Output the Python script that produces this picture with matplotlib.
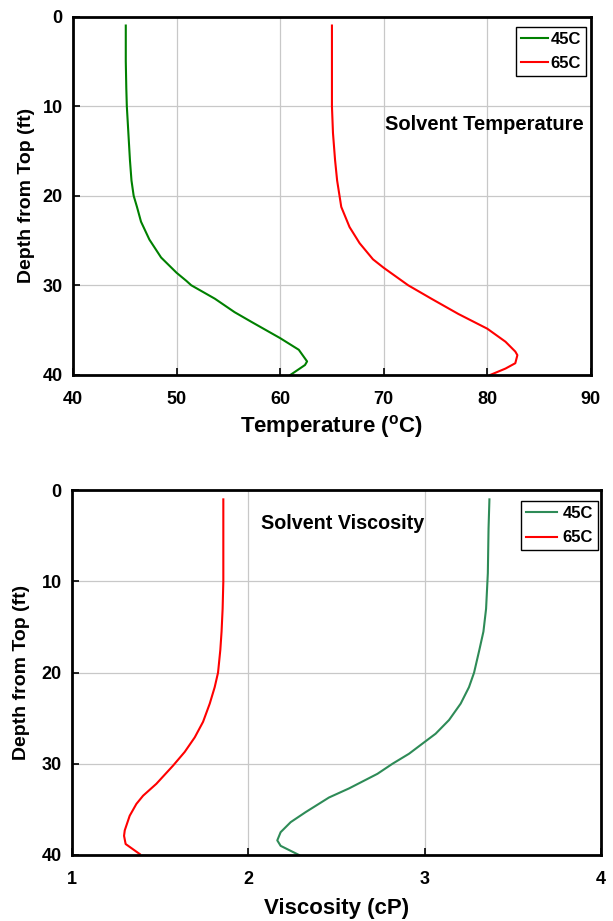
import matplotlib
matplotlib.use("Agg")
import matplotlib.pyplot as plt

plt.rcParams['font.family'] = ['Liberation Sans', 'DejaVu Sans']
plt.rcParams['font.weight'] = 'bold'

# top chart: temperature vs depth
t45_depth = [1, 5, 8, 10, 13, 16, 18.3, 20, 21.25, 22.9, 24.9, 26.9, 28.6, 29.5, 30, 31.5, 33.0, 34.1, 35.9, 37.2, 38.5, 38.9, 40]
t45_temp = [45.1, 45.1, 45.15, 45.2, 45.35, 45.5, 45.65, 45.86, 46.18, 46.57, 47.38, 48.51, 50.0, 50.94, 51.42, 53.7, 55.6, 57.25, 60.0, 61.8, 62.6, 62.4, 61.0]
t65_depth = [1, 5, 10, 13, 16, 18.3, 21.25, 23.5, 25.3, 27.1, 28.05, 30, 31.5, 33.2, 34.85, 36.3, 37.4, 37.8, 38.7, 39.3, 40]
t65_temp = [65.0, 65.0, 65.0, 65.1, 65.3, 65.5, 65.9, 66.7, 67.67, 68.96, 70.0, 72.36, 74.6, 77.2, 80.0, 81.75, 82.7, 82.9, 82.7, 81.75, 80.3]

# bottom chart: viscosity vs depth
v45_depth = [1, 4.2, 9.1, 13, 15.5, 17.5, 20, 21.6, 23.4, 25.2, 26.7, 27.6, 28.9, 30, 31.1, 32.7, 33.7, 35.3, 36.4, 37.5, 38.4, 39.0, 40]
v45_visc = [3.367, 3.362, 3.358, 3.348, 3.333, 3.31, 3.28, 3.251, 3.204, 3.138, 3.062, 3.0, 2.911, 2.817, 2.732, 2.571, 2.457, 2.325, 2.24, 2.183, 2.164, 2.183, 2.287]
v65_depth = [1, 5, 10, 13, 15.5, 17.5, 20, 21.6, 23.4, 25.4, 27.1, 28.7, 30.2, 32.2, 33.5, 34.4, 35.7, 37.3, 37.9, 38.8, 39.9]
v65_visc = [1.858, 1.858, 1.858, 1.854, 1.848, 1.841, 1.828, 1.809, 1.781, 1.743, 1.696, 1.639, 1.573, 1.478, 1.403, 1.365, 1.327, 1.299, 1.295, 1.304, 1.384]

fig = plt.figure(figsize=(6.13, 9.21), dpi=100)
ax1 = fig.add_axes([0.119, 0.593, 0.845, 0.389])
ax2 = fig.add_axes([0.1175, 0.0717, 0.863, 0.396])


def style(ax, xlim, xticks):
    ax.set_xlim(xlim)
    ax.set_ylim(40, 0)
    ax.set_xticks(xticks)
    ax.set_yticks([0, 10, 20, 30, 40])
    ax.grid(True, color='#c8c8c8', linewidth=0.9)
    ax.set_axisbelow(True)
    ax.tick_params(direction='in', length=5, width=1.2, labelsize=13)
    ax.tick_params(axis='x', pad=11.5)
    ax.tick_params(axis='y', pad=7.5)
    for s in ax.spines.values():
        s.set_linewidth(2)
    for lab in ax.get_xticklabels() + ax.get_yticklabels():
        lab.set_fontweight('bold')
    ax.set_ylabel('Depth from Top (ft)', fontsize=14, fontweight='bold')


ax1.plot(t45_temp, t45_depth, color='#008000', lw=1.5, label='45C')
ax1.plot(t65_temp, t65_depth, color='#ff0000', lw=1.5, label='65C')
style(ax1, (40, 90), [40, 50, 60, 70, 80, 90])
ax1.set_xlabel('Temperature ($^{\\mathregular{o}}$C)', fontsize=16, fontweight='bold', va='top')
ax1.xaxis.set_label_coords(0.5, -0.107)
ax1.yaxis.set_label_coords(-0.073, 0.5)
ax1.text(79.7, 12.1, 'Solvent Temperature', fontsize=14.5, fontweight='bold', ha='center', va='center')
leg = ax1.legend(loc='upper right', fancybox=False, edgecolor='black', fontsize=12,
                 handlelength=1.6, handletextpad=0.15, borderpad=0.3, labelspacing=0.55,
                 borderaxespad=0, framealpha=1, bbox_to_anchor=(0.990, 0.972))
leg.get_frame().set_linewidth(1.0)

ax2.plot(v45_visc, v45_depth, color='#2e8b57', lw=1.5, label='45C')
ax2.plot(v65_visc, v65_depth, color='#ff0000', lw=1.5, label='65C')
style(ax2, (1, 4), [1, 2, 3, 4])
ax2.set_xlabel('Viscosity (cP)', fontsize=16, fontweight='bold', va='top')
ax2.xaxis.set_label_coords(0.5, -0.117)
ax2.yaxis.set_label_coords(-0.080, 0.5)
ax2.text(2.537, 3.6, 'Solvent Viscosity', fontsize=14.2, fontweight='bold', ha='center', va='center')
leg = ax2.legend(loc='upper right', fancybox=False, edgecolor='black', fontsize=12,
                 handlelength=1.9, handletextpad=0.3, borderpad=0.3, labelspacing=0.55,
                 borderaxespad=0, framealpha=1, bbox_to_anchor=(0.994, 0.970))
leg.get_frame().set_linewidth(1.0)

fig.savefig('out.png', dpi=100)
